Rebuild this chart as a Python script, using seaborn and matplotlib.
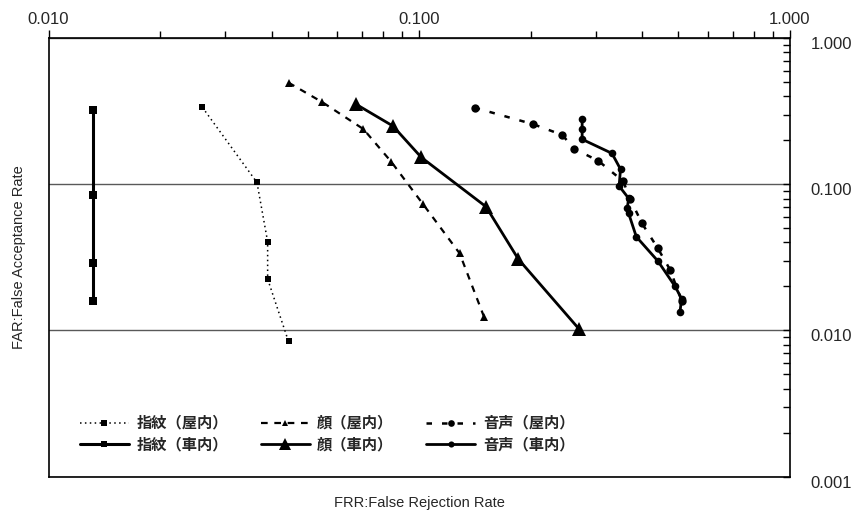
import matplotlib
matplotlib.use("Agg")
import matplotlib.pyplot as plt
import matplotlib.ticker as mticker
import matplotlib.transforms as mtransforms
import seaborn as sns
import pandas as pd

# FRR (x) / FAR (y) pairs
fp_in_frr = [0.026, 0.0365, 0.039, 0.039, 0.0444]
fp_in_far = [0.337, 0.103, 0.0405, 0.0225, 0.0084]
fp_car_frr = [0.0132, 0.0132, 0.0132, 0.0132]
fp_car_far = [0.323, 0.0845, 0.029, 0.0159]
face_in_frr = [0.0444, 0.0548, 0.0707, 0.084, 0.1023, 0.1285, 0.1495]
face_in_far = [0.497, 0.365, 0.239, 0.143, 0.0734, 0.0337, 0.0124]
face_car_frr = [0.0676, 0.0849, 0.1013, 0.1514, 0.185, 0.270]
face_car_far = [0.353, 0.251, 0.153, 0.0703, 0.0308, 0.0102]
voice_in_frr = [0.141, 0.203, 0.243, 0.262, 0.304, 0.355, 0.37, 0.399, 0.44, 0.475, 0.51]
voice_in_far = [0.335, 0.258, 0.218, 0.175, 0.145, 0.105, 0.08, 0.054, 0.0365, 0.026, 0.016]
voice_car_frr = [0.275, 0.275, 0.275, 0.331, 0.349, 0.346, 0.367, 0.364, 0.367, 0.385, 0.44, 0.49, 0.51, 0.505]
voice_car_far = [0.279, 0.238, 0.2035, 0.163, 0.127, 0.0974, 0.0803, 0.0686, 0.0634, 0.0438, 0.0299, 0.02, 0.0165, 0.0134]

labels = ["指紋（屋内）", "指紋（車内）", "顔（屋内）", "顔（車内）", "音声（屋内）", "音声（車内）"]

sns.set_style("ticks")
plt.rcParams['font.family'] = ['Liberation Sans', 'DejaVu Sans']

fig = plt.figure(figsize=(8.52, 5.14), dpi=100)
ax = fig.add_axes([48.5 / 852, 1 - 476.5 / 514, 741.5 / 852, 438.2 / 514])

series = [
    (fp_in_frr, fp_in_far, dict(marker='s', ms=5, lw=1.1, ls=(0, (1, 2.2)))),
    (fp_car_frr, fp_car_far, dict(marker='s', ms=6, lw=2.2, ls='-')),
    (face_in_frr, face_in_far, dict(marker='^', ms=6, lw=1.6, ls=(0, (3, 3)))),
    (face_car_frr, face_car_far, dict(marker='^', ms=10, lw=2.0, ls='-')),
    (voice_in_frr, voice_in_far, dict(marker='o', ms=6, lw=1.8, ls=(0, (2.2, 4)))),
    (voice_car_frr, voice_car_far, dict(marker='o', ms=5.5, lw=2.0, ls='-')),
]

for (xs, ys, st), lab in zip(series, labels):
    df = pd.DataFrame({'FRR': xs, 'FAR': ys})
    sns.lineplot(data=df, x='FRR', y='FAR', ax=ax, color='black', sort=False,
                 estimator=None, marker=st['marker'], markersize=st['ms'],
                 linewidth=st['lw'], linestyle=st['ls'], markeredgewidth=0,
                 label=lab)

ax.set_xscale('log')
ax.set_yscale('log')
ax.set_xlim(0.01, 1.0)
ax.set_ylim(0.001, 1.0)

fmt = mticker.FormatStrFormatter('%.3f')
ax.xaxis.set_major_locator(mticker.FixedLocator([0.01, 0.1, 1.0]))
ax.yaxis.set_major_locator(mticker.FixedLocator([0.001, 0.01, 0.1, 1.0]))
ax.xaxis.set_major_formatter(fmt)
ax.yaxis.set_major_formatter(fmt)
ax.xaxis.set_minor_formatter(mticker.NullFormatter())
ax.yaxis.set_minor_formatter(mticker.NullFormatter())

ax.xaxis.tick_top()
ax.yaxis.tick_right()
ax.tick_params(axis='x', which='both', direction='out', length=6, width=1,
               labelsize=12, pad=2, color='black')
ax.tick_params(axis='x', which='minor', length=5)
ax.tick_params(axis='y', which='both', direction='in', length=5, width=1,
               labelsize=12, pad=15, color='black')

for sp in ax.spines.values():
    sp.set_visible(True)
    sp.set_color('black')
    sp.set_linewidth(1.2)

ax.yaxis.grid(True, which='major', color='0.35', lw=1.0)
ax.xaxis.grid(False)

ax.xaxis.set_label_position('bottom')
ax.yaxis.set_label_position('left')
ax.set_xlabel('FRR:False Rejection Rate', fontsize=10.5, labelpad=14)
ax.set_ylabel('FAR:False Acceptance Rate', fontsize=10.5, labelpad=16)

h, l = ax.get_legend_handles_labels()
leg = ax.legend(h, l, ncol=3, loc='upper left', bbox_to_anchor=(0.032, 0.158),
                frameon=False, borderpad=0, handlelength=3.2, handletextpad=0.5,
                columnspacing=2.15, labelspacing=0.35, markerscale=0.8,
                prop={'family': ['Noto Sans CJK JP', 'DejaVu Sans'],
                      'weight': 'bold', 'size': 11})

# right-hand labels sit a little below their tick in the original
fig.canvas.draw()
shift = mtransforms.ScaledTranslation(0, -5 / 100, fig.dpi_scale_trans)
for t in ax.yaxis.get_major_ticks():
    t.label2.set_transform(t.label2.get_transform() + shift)

fig.savefig('out.png', dpi=100)
